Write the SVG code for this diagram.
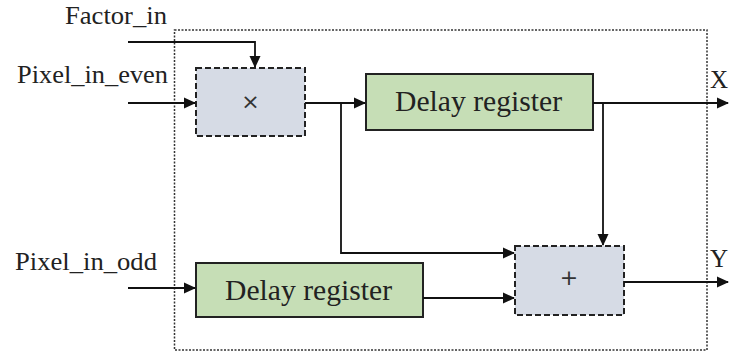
<svg xmlns="http://www.w3.org/2000/svg" width="729" height="356" viewBox="0 0 729 356">
<defs>
<marker id="arr" markerWidth="12" markerHeight="12" refX="11" refY="6" orient="auto" markerUnits="userSpaceOnUse">
<path d="M0,0.5 L12,6 L0,11.5 Z" fill="#111"/>
</marker>
<style>
.lbl{font-family:"Liberation Serif","Times New Roman",serif;font-size:25px;fill:#222}
.dr{font-family:"Liberation Serif","Times New Roman",serif;font-size:29px;fill:#222}
.op{font-family:"DejaVu Sans","Liberation Sans",sans-serif;font-size:22px;fill:#333}
.green{fill:#c6deb6;stroke:#222;stroke-width:2}
.blue{fill:#d6dbe5;stroke:#222;stroke-width:2;stroke-dasharray:6,3}
.wire{fill:none;stroke:#111;stroke-width:1.8}
</style>
</defs>
<rect width="729" height="356" fill="#fff"/>
<rect id="outer" x="174.5" y="30" width="532.5" height="320" fill="none" stroke="#333" stroke-width="1.5" stroke-dasharray="2,1.5"/>
<g id="labels">
<text class="lbl" x="65" y="24" textLength="102" lengthAdjust="spacingAndGlyphs">Factor_in</text>
<text class="lbl" x="17" y="83" textLength="151" lengthAdjust="spacingAndGlyphs">Pixel_in_even</text>
<text class="lbl" x="15" y="270" textLength="142" lengthAdjust="spacingAndGlyphs">Pixel_in_odd</text>
<text class="lbl" x="710" y="88" font-size="23">X</text>
<text class="lbl" x="710" y="267" font-size="23">Y</text>
</g>
<g id="mult">
<rect class="blue" x="196" y="68" width="109" height="68"/>
<text class="op" x="250.5" y="109" text-anchor="middle">×</text>
</g>
<g id="delay1">
<rect class="green" x="366" y="74" width="227" height="56"/>
<text class="dr" x="395" y="111" textLength="167" lengthAdjust="spacingAndGlyphs">Delay register</text>
</g>
<g id="adder">
<rect class="blue" x="515" y="246" width="109" height="69"/>
<text class="op" x="569" y="285" text-anchor="middle">+</text>
</g>
<g id="delay2">
<rect class="green" x="196" y="263" width="227" height="54"/>
<text class="dr" x="225" y="300" textLength="167" lengthAdjust="spacingAndGlyphs">Delay register</text>
</g>
<g id="connectors">
<path class="wire" d="M128,42 H255 V67" marker-end="url(#arr)"/>
<path class="wire" d="M128,103 H195" marker-end="url(#arr)"/>
<path class="wire" d="M305,103 H365" marker-end="url(#arr)"/>
<path class="wire" d="M341,103 V253 H514" marker-end="url(#arr)"/>
<path class="wire" d="M593,103 H728" marker-end="url(#arr)"/>
<path class="wire" d="M603,103 V245" marker-end="url(#arr)"/>
<path class="wire" d="M624,282 H728" marker-end="url(#arr)"/>
<path class="wire" d="M128,288 H195" marker-end="url(#arr)"/>
<path class="wire" d="M423,298 H514" marker-end="url(#arr)"/>
</g>
</svg>
